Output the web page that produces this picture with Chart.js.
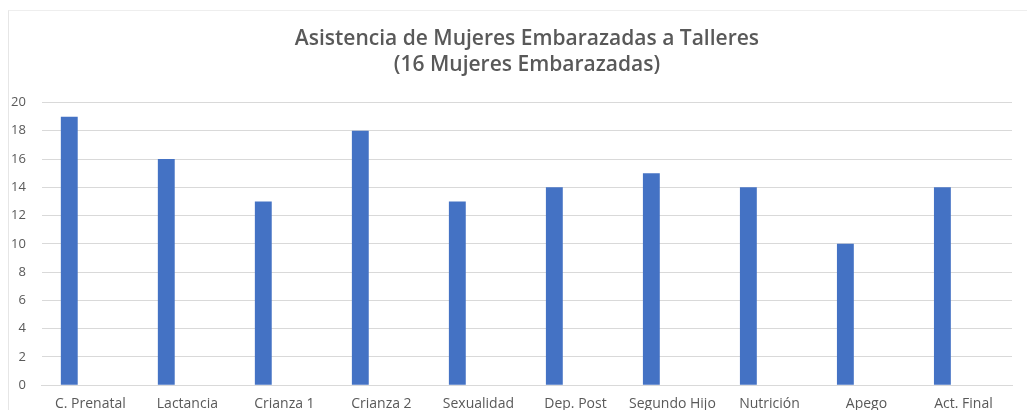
<!DOCTYPE html>
<html>
<head>
<meta charset="utf-8">
<script src="https://cdn.jsdelivr.net/npm/chart.js@4"></script>
<style>
  html, body { margin: 0; padding: 0; background: #fff; overflow: hidden; }
  #wrap { position: absolute; left: 8px; top: 10px; width: 1019px; height: 400px;
          border-left: 1px solid #e6e6e6; border-top: 1px solid #eeeeee; }
  #box { position: absolute; left: 0; top: 0; width: 1027px; height: 414px; }
</style>
</head>
<body>
<div id="wrap"></div>
<div id="box"><canvas id="c"></canvas></div>
<script>
// talleres y asistencia
const talleres = ['C. Prenatal', 'Lactancia', 'Crianza 1', 'Crianza 2', 'Sexualidad',
                  'Dep. Post', 'Segundo Hijo', 'Nutrición', 'Apego', 'Act. Final'];
const asistencia = [19, 16, 13, 18, 13, 14, 15, 14, 10, 14];
const vacio = [null, null, null, null, null, null, null, null, null, null];
const yTicks = [0, 2, 4, 6, 8, 10, 12, 14, 16, 18, 20];

const gris = '#595959';

new Chart(document.getElementById('c'), {
    type: 'bar',
    data: {
        labels: talleres,
        datasets: [
            {
                label: 'Asistencia',
                data: asistencia,
                backgroundColor: '#4472c4',
                categoryPercentage: 0.87,
                barPercentage: 0.4
            },
            {
                label: '',
                data: vacio,
                backgroundColor: '#ed7d31',
                categoryPercentage: 0.87,
                barPercentage: 0.4
            }
        ]
    },
    options: {
        responsive: true,
        maintainAspectRatio: false,
        animation: false,
        layout: {
            padding: { left: -5, right: 15, top: 26, bottom: 0 }
        },
        scales: {
            y: {
                min: 0,
                max: 20,
                afterBuildTicks: axis => { axis.ticks = yTicks.map(v => ({ value: v })); },
                border: { display: false },
                grid: { color: '#d9d9d9', lineWidth: 1, drawTicks: false },
                ticks: { color: gris, padding: 16, font: { family: 'Open Sans', size: 13 } }
            },
            x: {
                border: { color: '#d9d9d9' },
                grid: { display: false },
                ticks: { color: gris, padding: 2, maxRotation: 0, autoSkip: false,
                         font: { family: 'Open Sans', size: 14 } }
            }
        },
        plugins: {
            legend: { display: false },
            tooltip: { enabled: false },
            title: {
                display: true,
                fullSize: false,
                text: ['Asistencia de Mujeres Embarazadas a Talleres', '(16 Mujeres Embarazadas)'],
                color: gris,
                font: { family: 'Open Sans', size: 21, weight: '600', lineHeight: 1.25 },
                padding: { top: 0, bottom: 24 }
            }
        }
    }
});
</script>
</body>
</html>
